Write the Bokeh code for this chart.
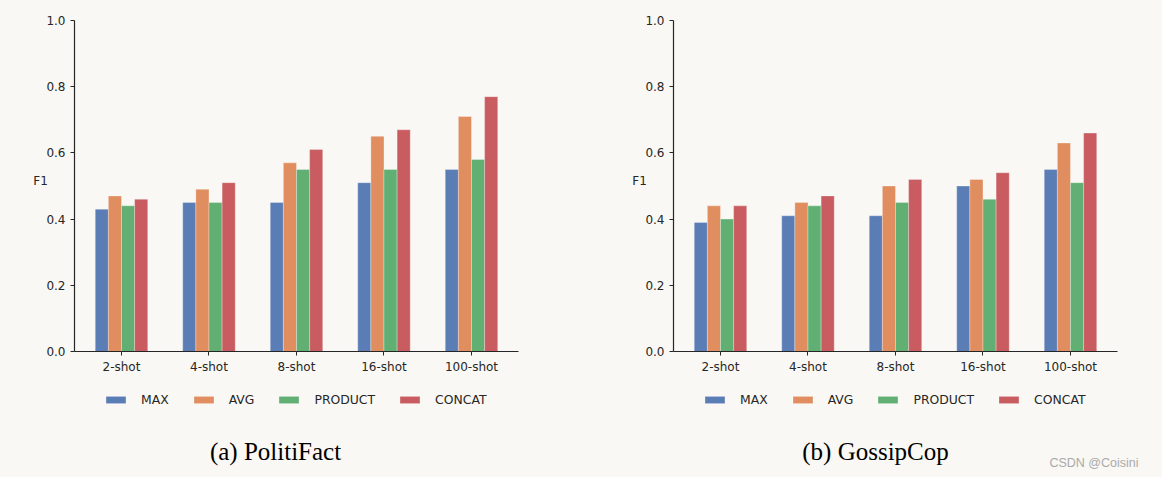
import numpy as np
from bokeh.plotting import figure
from bokeh.models import (Range1d, FixedTicker, PrintfTickFormatter, Legend,
                          LegendItem, Label, ColumnDataSource)
from bokeh.layouts import row
from bokeh.embed import file_html
from bokeh.resources import INLINE

# ---------------- data ----------------
shots = ["2-shot", "4-shot", "8-shot", "16-shot", "100-shot"]
methods = ["MAX", "AVG", "PRODUCT", "CONCAT"]

politifact_max = [0.43, 0.45, 0.45, 0.51, 0.55]
politifact_avg = [0.47, 0.49, 0.57, 0.65, 0.71]
politifact_product = [0.44, 0.45, 0.55, 0.55, 0.58]
politifact_concat = [0.46, 0.51, 0.61, 0.67, 0.77]

gossipcop_max = [0.39, 0.41, 0.41, 0.50, 0.55]
gossipcop_avg = [0.44, 0.45, 0.50, 0.52, 0.63]
gossipcop_product = [0.40, 0.44, 0.45, 0.46, 0.51]
gossipcop_concat = [0.44, 0.47, 0.52, 0.54, 0.66]

y_ticks = [0.0, 0.2, 0.4, 0.6, 0.8, 1.0]
captions = ["(a) PolitiFact", "(b) GossipCop"]
watermark_text = "CSDN @Coisini"

# ---------------- layout / style ----------------
BG = "#f9f8f4"
COLORS = ["#4C72B0", "#DD8452", "#55A868", "#C44E52"]
TEXT = "#262626"
SANS = "DejaVu Sans"
BAR_W = 0.15
H = 477
AX_LEFT = 74          # px of y axis from panel left
AX_TOP = 20           # px of y=1.0 from top
AX_BOTTOM = 351       # px of y=0 from top
PX_PER_X = 87.5       # px per category
X_LO, X_HI = -0.537, 4.537
Y_LO, Y_HI = 0.0, 1.0
PX_PER_Y = (AX_BOTTOM - AX_TOP) / (Y_HI - Y_LO)


def px_to_x(px):
    return X_LO + (px - AX_LEFT) / PX_PER_X


def px_to_y(py):
    return Y_LO + (AX_BOTTOM - py) / PX_PER_Y


def make_panel(series, caption, width, caption_px, watermark=None):
    p = figure(width=width, height=H, min_border=0,
               x_range=Range1d(px_to_x(0), px_to_x(width)),
               y_range=Range1d(px_to_y(H), px_to_y(0)),
               output_backend="svg", toolbar_location=None,
               background_fill_color=BG, border_fill_color=BG,
               outline_line_color=None)
    p.title.visible = False
    p.grid.visible = False

    xs = np.arange(len(shots))
    items = []
    for i, (name, color, vals) in enumerate(zip(methods, COLORS, series)):
        src = ColumnDataSource(dict(x=xs + (i - 1.5) * BAR_W, top=vals))
        r = p.vbar(x="x", top="top", bottom=0, width=BAR_W, source=src,
                   fill_color=color, fill_alpha=0.92,
                   line_color="white", line_width=0.6, line_alpha=0.5)
        items.append(LegendItem(label=name, renderers=[r]))

    # axes drawn at fixed data locations inside the frame
    for ax in (p.xaxis, p.yaxis):
        ax.axis_line_color = TEXT
        ax.axis_line_width = 1.2
        ax.major_tick_line_color = TEXT
        ax.major_tick_line_width = 1.0
        ax.major_tick_in = 0
        ax.major_tick_out = 4
        ax.minor_tick_line_color = None
        ax.major_label_text_font = SANS
        ax.major_label_text_font_size = "12px"
        ax.major_label_text_color = TEXT
    p.xaxis.fixed_location = Y_LO
    p.xaxis.bounds = (X_LO, X_HI)
    p.xaxis.ticker = FixedTicker(ticks=list(range(len(shots))))
    p.xaxis.major_label_overrides = {i: s for i, s in enumerate(shots)}
    p.xaxis.major_label_standoff = 4
    p.yaxis.fixed_location = X_LO
    p.yaxis.bounds = (Y_LO, Y_HI)
    p.yaxis.ticker = FixedTicker(ticks=y_ticks)
    p.yaxis.formatter = PrintfTickFormatter(format="%.1f")
    p.yaxis.major_label_standoff = 5

    # F1 label (horizontal)
    p.add_layout(Label(x=px_to_x(40), y=px_to_y(180), text="F1",
                       text_align="center", text_baseline="middle",
                       text_font=SANS, text_font_size="12px", text_color=TEXT))

    legend = Legend(items=items, orientation="horizontal",
                    location=(103, H - 407),
                    glyph_width=25, glyph_height=9, label_standoff=13,
                    spacing=22, padding=4, margin=0,
                    label_text_font=SANS, label_text_font_size="12.4px",
                    label_text_color=TEXT, label_height=12,
                    border_line_color=None, background_fill_alpha=0)
    p.add_layout(legend, "center")

    p.add_layout(Label(x=px_to_x(caption_px), y=px_to_y(451), text=caption,
                       text_align="center", text_baseline="middle",
                       text_font="Liberation Serif", text_font_size="25px",
                       text_color="black"))

    if watermark:
        p.add_layout(Label(x=px_to_x(539), y=px_to_y(462), text=watermark,
                           text_align="right", text_baseline="middle",
                           text_font="Liberation Sans",
                           text_font_size="12.5px", text_color="#aaaaaa"))
    return p


left = make_panel([politifact_max, politifact_avg, politifact_product, politifact_concat],
                  captions[0], 599, 275)
right = make_panel([gossipcop_max, gossipcop_avg, gossipcop_product, gossipcop_concat],
                   captions[1], 563, 276, watermark=watermark_text)

layout = row(left, right, spacing=0, styles={"background-color": BG})
open("out.html", "w").write(file_html(layout, INLINE))
